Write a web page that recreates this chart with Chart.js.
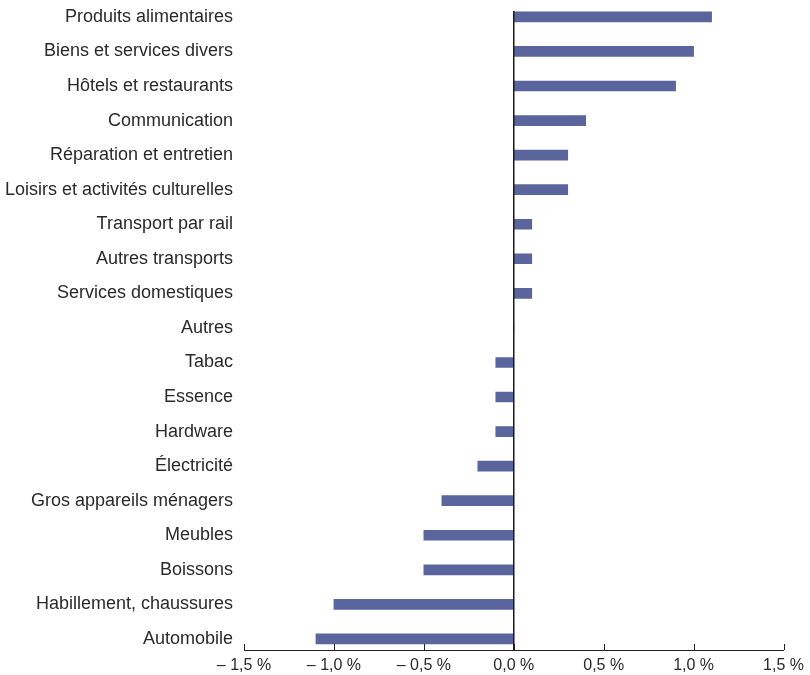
<!DOCTYPE html>
<html>
<head>
<meta charset="utf-8">
<script src="https://cdn.jsdelivr.net/npm/chart.js@4/dist/chart.umd.min.js"></script>
<style>
html,body{margin:0;padding:0;background:#fff;}
#wrap{width:810px;height:675px;position:relative;}
</style>
</head>
<body>
<div id="wrap"><canvas id="c" width="810" height="675"></canvas></div>
<script>
const categories = [
  "Produits alimentaires",
  "Biens et services divers",
  "Hôtels et restaurants",
  "Communication",
  "Réparation et entretien",
  "Loisirs et activités culturelles",
  "Transport par rail",
  "Autres transports",
  "Services domestiques",
  "Autres",
  "Tabac",
  "Essence",
  "Hardware",
  "Électricité",
  "Gros appareils ménagers",
  "Meubles",
  "Boissons",
  "Habillement, chaussures",
  "Automobile"
];
const values = [1.1, 1.0, 0.9, 0.4, 0.3, 0.3, 0.1, 0.1, 0.1, 0.0, -0.1, -0.1, -0.1, -0.2, -0.4, -0.5, -0.5, -1.0, -1.1];
const xTicks = [-1.5, -1.0, -0.5, 0.0, 0.5, 1.0, 1.5];

function fmt(v){
  const s = Math.abs(v).toFixed(1).replace('.', ',') + ' %';
  return v < 0 ? '\u2013 ' + s : s;
}

const overlay = {
  id: 'overlay',
  afterDatasetsDraw(chart){
    const ctx = chart.ctx;
    const xs = chart.scales.x;
    const area = chart.chartArea;
    ctx.save();
    ctx.strokeStyle = '#222';
    ctx.lineWidth = 1;
    xTicks.forEach(t => {
      const x = Math.round(xs.getPixelForValue(t)) + 0.5;
      ctx.beginPath();
      ctx.moveTo(x, area.bottom - 6);
      ctx.lineTo(x, area.bottom);
      ctx.stroke();
    });
    const x0 = xs.getPixelForValue(0);
    ctx.strokeStyle = '#1a1a1a';
    ctx.lineWidth = 1.5;
    ctx.beginPath();
    ctx.moveTo(x0, area.top);
    ctx.lineTo(x0, area.bottom);
    ctx.stroke();
    ctx.restore();
  }
};

Chart.defaults.font.family = "'Liberation Sans', Arial, sans-serif";
Chart.defaults.color = '#2a2a2a';

new Chart(document.getElementById('c'), {
  type: 'bar',
  data: {
    datasets: [{
      data: values.map((v, i) => ({x: v, y: i})),
      backgroundColor: '#5a659d',
      borderWidth: 0,
      barThickness: 10
    }]
  },
  options: {
    indexAxis: 'y',
    responsive: false,
    animation: false,
    layout: {padding: {top: 11, right: 26, left: 0, bottom: 0}},
    plugins: {legend: {display: false}, tooltip: {enabled: false}},
    scales: {
      x: {
        type: 'linear',
        min: -1.5,
        max: 1.5,
        afterBuildTicks(scale){ scale.ticks = xTicks.map(v => ({value: v})); },
        afterFit(scale){ scale.height = 25; },
        grid: {display: true, drawOnChartArea: false, drawTicks: false},
        border: {display: true, color: '#222', width: 1},
        ticks: {
          padding: 6,
          font: {size: 16},
          maxRotation: 0,
          callback: (v) => fmt(v)
        }
      },
      y: {
        type: 'linear',
        reverse: true,
        offset: false,
        min: -0.17,
        max: 18.32,
        afterBuildTicks(scale){ scale.ticks = categories.map((_, i) => ({value: i})); },
        afterFit(scale){ scale.width = 244; scale.paddingTop = 0; scale.paddingBottom = 0; },
        grid: {display: false, drawTicks: false, offset: false},
        border: {display: false},
        ticks: {
          padding: 11,
          font: {size: 18},
          autoSkip: false,
          callback: (v) => categories[v]
        }
      }
    }
  },
  plugins: [overlay]
});
</script>
</body>
</html>
